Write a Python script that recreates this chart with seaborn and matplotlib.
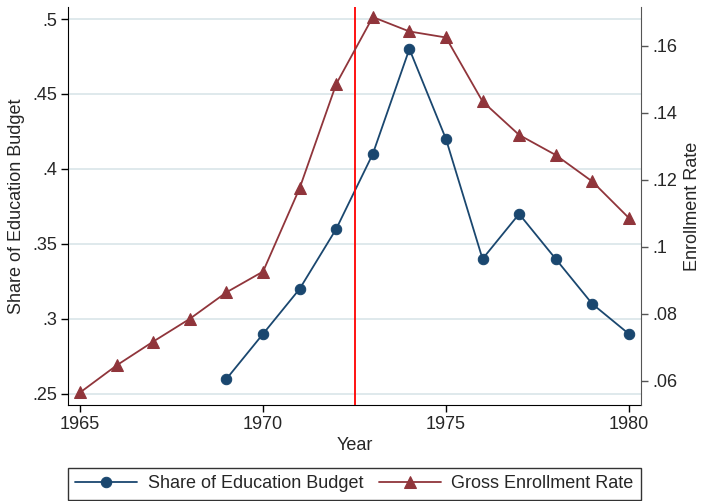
import numpy as np
import pandas as pd
import seaborn as sns
import matplotlib.pyplot as plt

# values
budget_years = [1969, 1970, 1971, 1972, 1973, 1974, 1975, 1976, 1977, 1978, 1979, 1980]
budget_share = [0.26, 0.29, 0.32, 0.36, 0.41, 0.48, 0.42, 0.34, 0.37, 0.34, 0.31, 0.29]

enroll_years = list(range(1965, 1981))
enroll_rate = [0.0565, 0.0646, 0.0717, 0.0785, 0.0864, 0.0926, 0.1175, 0.1486,
               0.1686, 0.1643, 0.1625, 0.1434, 0.1334, 0.1274, 0.1195, 0.1086]

left_ticks = [0.25, 0.3, 0.35, 0.4, 0.45, 0.5]
left_labels = [".25", ".3", ".35", ".4", ".45", ".5"]
right_ticks = [0.06, 0.08, 0.10, 0.12, 0.14, 0.16]
right_labels = [".06", ".08", ".1", ".12", ".14", ".16"]
x_ticks = [1965, 1970, 1975, 1980]
cutoff_year = 1972.5

blue = "#1a476f"
maroon = "#90353b"
grid_col = "#dfe9ec"

sns.set_style("white")
plt.rcParams['font.family'] = ['Liberation Sans', 'DejaVu Sans']
fs = 13

df_b = pd.DataFrame({"Year": budget_years, "share": budget_share})
df_e = pd.DataFrame({"Year": enroll_years, "rate": enroll_rate})

fig = plt.figure(figsize=(7.02, 5.01), dpi=100)
ax = fig.add_axes([0.097, 0.192, 0.816, 0.794])
ax2 = ax.twinx()

# gridlines follow left axis
for t in left_ticks:
    ax.axhline(t, color=grid_col, lw=1.4, zorder=1)

sns.lineplot(data=df_b, x="Year", y="share", ax=ax, color=blue, marker='o',
             markersize=7.5, mec=blue, lw=1.3, label="Share of Education Budget",
             legend=False, zorder=3)
sns.lineplot(data=df_e, x="Year", y="rate", ax=ax2, color=maroon, marker='^',
             markersize=8.5, mec=maroon, lw=1.3, label="Gross Enrollment Rate",
             legend=False, zorder=3)
ax.axvline(cutoff_year, color='red', lw=1.3, zorder=4)

ax.set_xlim(1964.67, 1980.33)
ax.set_ylim(0.2427, 0.508)
ax2.set_ylim(0.0528, 0.1716)

ax.set_xticks(x_ticks)
ax.set_xticklabels([str(x) for x in x_ticks], fontsize=fs)
ax.set_yticks(left_ticks)
ax.set_yticklabels(left_labels, fontsize=fs)
ax2.set_yticks(right_ticks)
ax2.set_yticklabels(right_labels, fontsize=fs)

ax.set_xlabel("Year", fontsize=fs, labelpad=3)
ax.set_ylabel("Share of Education Budget", fontsize=fs, labelpad=5)
ax2.set_ylabel("Enrollment Rate", fontsize=fs, labelpad=5)

for a in (ax, ax2):
    a.spines['top'].set_visible(False)
ax2.spines['left'].set_visible(False)
ax2.spines['bottom'].set_visible(False)
ax.spines['right'].set_visible(False)
ax.spines['left'].set_color('black')
ax.spines['bottom'].set_color('black')
ax2.spines['right'].set_color('#555555')
ax.tick_params(axis='both', direction='out', length=5, width=1, color='black', pad=3, left=True, bottom=True)
ax2.tick_params(axis='y', direction='out', length=5, width=1, color='#555555', pad=3, right=True)

h1, l1 = ax.get_legend_handles_labels()
h2, l2 = ax2.get_legend_handles_labels()
leg = fig.legend(h1 + h2, l1 + l2, loc='center', bbox_to_anchor=(0.505, 0.034),
                 ncol=2, fontsize=fs, frameon=True, fancybox=False,
                 handlelength=3.4, columnspacing=0.9, borderpad=0.4,
                 handletextpad=0.6, edgecolor='black')
leg.get_frame().set_linewidth(1.0)

fig.savefig("out.png", dpi=100)
